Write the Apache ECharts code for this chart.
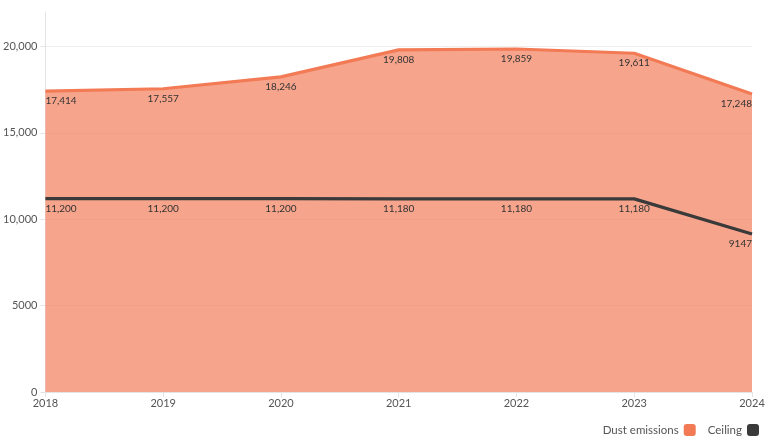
<!DOCTYPE html>
<html><head><meta charset="utf-8">
<script src="https://cdn.jsdelivr.net/npm/echarts@6/dist/echarts.min.js"></script>
<style>html,body{margin:0;padding:0;background:#fff}#c{width:768px;height:444px}</style>
</head><body><div id="c"></div>
<script>
const years = ['2018','2019','2020','2021','2022','2023','2024'];
const dust = [17414, 17557, 18246, 19808, 19859, 19611, 17248];
const ceiling = [11200, 11200, 11200, 11180, 11180, 11180, 9147];
const yTicks = [0, 5000, 10000, 15000, 20000];

function fmt(v){ return v >= 10000 ? v.toLocaleString('en-US') : String(v); }
function withAlign(arr){
  return arr.map((v,i)=>({value:v, label:{align: i===0?'left':(i===arr.length-1?'right':'center')}}));
}
const font = 'Lato, "Noto Sans", sans-serif';
const chart = echarts.init(document.getElementById('c'));
chart.setOption({
  animation:false,
  textStyle:{fontFamily:font},
  grid:{left:44,right:16,top:12,bottom:52},
  legend:{
    right:4, bottom:3, align:'right', icon:'roundRect', itemWidth:12, itemHeight:12, itemGap:12,
    textStyle:{fontFamily:font,fontSize:11.5,color:'#555'},
    data:['Dust emissions','Ceiling']
  },
  xAxis:{
    type:'category', data:years, boundaryGap:false,
    axisLine:{show:true,lineStyle:{color:'#e4e4e4'}},
    axisTick:{show:true,lineStyle:{color:'#e4e4e4'},length:5},
    axisLabel:{color:'#555',fontSize:11,margin:6,fontFamily:font}
  },
  yAxis:{
    type:'value', min:0, max:22000, interval:5000,
    axisLine:{show:true,lineStyle:{color:'#e4e4e4'}},
    axisTick:{show:true,lineStyle:{color:'#e4e4e4'},length:5},
    axisLabel:{color:'#555',fontSize:11,margin:8,showMaxLabel:false,fontFamily:font,
      formatter:v=>yTicks.includes(v)?fmt(v):''},
    splitLine:{show:true,lineStyle:{color:['#eeeeee','#eeeeee','#eeeeee','#eeeeee','#eeeeee','rgba(0,0,0,0)']}}
  },
  series:[
    {
      name:'Dust emissions', type:'line', data:withAlign(dust),
      symbol:'circle', symbolSize:0, showSymbol:true, color:'#f27a55',
      lineStyle:{width:3.2,color:'#f27a55'},
      areaStyle:{color:'#f27a55',opacity:0.68},
      label:{show:true,position:'bottom',distance:5,fontSize:10,color:'#333',fontFamily:font,formatter:p=>fmt(p.value)},
      z:2
    },
    {
      name:'Ceiling', type:'line', data:withAlign(ceiling),
      symbol:'circle', symbolSize:0, showSymbol:true, color:'#3a3a3a',
      lineStyle:{width:3.2,color:'#3a3a3a'},
      label:{show:true,position:'bottom',distance:5,fontSize:10,color:'#333',fontFamily:font,formatter:p=>fmt(p.value)},
      z:3
    }
  ]
});
</script></body></html>
